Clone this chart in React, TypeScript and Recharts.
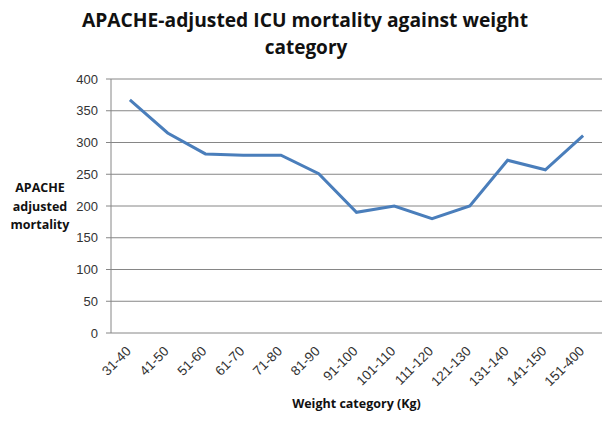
import React from 'react';
import {
  LineChart,
  Line,
  XAxis,
  YAxis,
  CartesianGrid,
  Label,
} from 'recharts';

const categories = [
  '31-40', '41-50', '51-60', '61-70', '71-80', '81-90', '91-100',
  '101-110', '111-120', '121-130', '131-140', '141-150', '151-400',
];
const mortality = [367, 315, 282, 280, 280, 251, 190, 200, 180, 200, 272, 257, 311];
const yTicks = [0, 50, 100, 150, 200, 250, 300, 350, 400];
const boundaryTicks = categories.map((_, i) => i).concat(categories.length);

const GREY = '#868686';
const FONT = '"Liberation Sans", Arial, sans-serif';
const BOLD_FONT = '"Open Sans", "DejaVu Sans", sans-serif';

const data = categories.map((cat, i) => ({ cat, value: mortality[i] }));

function CategoryTick(props: any) {
  const { x, y, payload } = props;
  const ax = x + 2;
  const ay = y + 11;
  return (
    <text
      x={ax}
      y={ay}
      transform={`rotate(-45, ${ax}, ${ay})`}
      textAnchor="end"
      fontSize={13.5}
      fontFamily={FONT}
      fill="#333"
    >
      {payload.value}
    </text>
  );
}

function YTitle(props: any) {
  const cx = 40;
  return (
    <text textAnchor="middle" fontSize={12.5} fontWeight="bold" fontFamily={BOLD_FONT} fill="#111">
      <tspan x={cx} y={192}>APACHE</tspan>
      <tspan x={cx} y={211}>adjusted</tspan>
      <tspan x={cx} y={229}>mortality</tspan>
    </text>
  );
}

export default function App() {
  return (
    <div style={{ position: 'fixed', left: 0, top: 0, width: 613, height: 422, background: '#fff' }}>
      <svg
        width={613}
        height={70}
        style={{ position: 'absolute', left: 0, top: 0, pointerEvents: 'none' }}
      >
        <text
          x={305}
          y={27}
          textAnchor="middle"
          fontSize={19}
          fontWeight="bold"
          fontFamily={BOLD_FONT}
          fill="#111"
          textLength={446}
          lengthAdjust="spacingAndGlyphs"
        >
          APACHE-adjusted ICU mortality against weight
        </text>
        <text
          x={306}
          y={54}
          textAnchor="middle"
          fontSize={19}
          fontWeight="bold"
          fontFamily={BOLD_FONT}
          fill="#111"
        >
          category
        </text>
      </svg>
      <LineChart
        width={613}
        height={422}
        data={data}
        margin={{ top: 79, right: 11, bottom: 0, left: 0 }}
      >
        <CartesianGrid vertical={false} stroke={GREY} strokeWidth={1} />
        <XAxis
          xAxisId="bounds"
          type="number"
          domain={[0, categories.length]}
          allowDataOverflow
          ticks={boundaryTicks}
          tickFormatter={() => ''}
          height={0}
          stroke={GREY}
          tickSize={5}
        />
        <XAxis
          xAxisId="cat"
          dataKey="cat"
          type="category"
          scale="band"
          interval={0}
          height={89}
          axisLine={false}
          tickLine={false}
          tick={<CategoryTick />}
        >
          <Label
            value="Weight category (Kg)"
            position="insideBottom"
            offset={14}
            fontSize={12.5}
            fontWeight="bold"
            fontFamily={BOLD_FONT}
            fill="#111"
          />
        </XAxis>
        <YAxis
          domain={[0, 400]}
          ticks={yTicks}
          interval={0}
          width={111}
          stroke={GREY}
          tickSize={5}
          tickMargin={8}
          tick={{ fontSize: 13, fontFamily: FONT, fill: '#333' }}
        >
          <Label content={<YTitle />} />
        </YAxis>
        <Line
          xAxisId="cat"
          dataKey="value"
          stroke="#4a7ebb"
          strokeWidth={3}
          dot={false}
          isAnimationActive={false}
        />
      </LineChart>
    </div>
  );
}
